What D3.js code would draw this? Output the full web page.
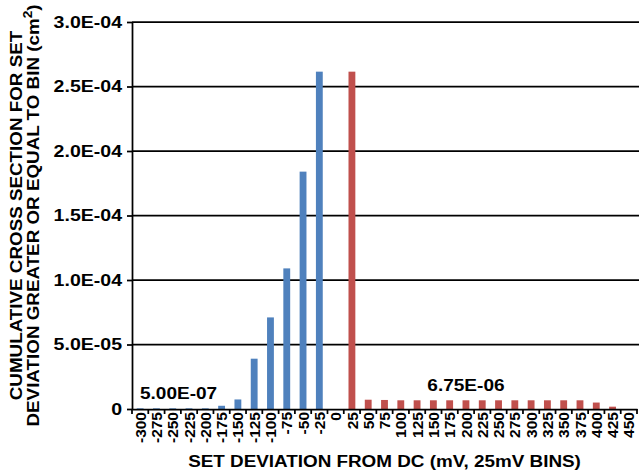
<!DOCTYPE html>
<html>
<head>
<meta charset="utf-8">
<script src="https://cdn.jsdelivr.net/npm/d3@7"></script>
<style>
  body { margin: 0; background: #fff; }
  text { font-family: "Liberation Sans", Arial, sans-serif; font-weight: bold; fill: #000; }
</style>
</head>
<body>
<svg id="chart" width="639" height="474"></svg>
<script>
// bins in mV
var categories = ["-300","-275","-250","-225","-200","-175","-150","-125","-100","-75","-50","-25","0",
  "25","50","75","100","125","150","175","200","225","250","275","300","325","350","375","400","425","450"];

var negValues = [5e-7, 5e-7, 5e-7, 5e-7, 5e-7, 2.5e-6, 7.4e-6, 3.9e-5, 7.1e-5, 1.09e-4, 1.84e-4, 2.615e-4, 0,
  0, 0, 0, 0, 0, 0, 0, 0, 0, 0, 0, 0, 0, 0, 0, 0, 0, 0];

var posValues = [0, 0, 0, 0, 0, 0, 0, 0, 0, 0, 0, 0, 0,
  2.615e-4, 7.2e-6, 7.0e-6, 6.75e-6, 6.75e-6, 6.75e-6, 6.75e-6, 6.75e-6, 6.75e-6, 6.75e-6, 6.75e-6,
  6.75e-6, 6.75e-6, 6.75e-6, 6.75e-6, 5.0e-6, 1.8e-6, 0];

var yTicks = [0, 5e-5, 1e-4, 1.5e-4, 2e-4, 2.5e-4, 3e-4];
var yTickLabels = ["0", "5.0E-05", "1.0E-04", "1.5E-04", "2.0E-04", "2.5E-04", "3.0E-04"];

var annotations = [
  { text: "5.00E-07", cat: "-300", value: 5e-7, anchor: "start" },
  { text: "6.75E-06", cat: "200", value: 6.75e-6, anchor: "middle" }
];

var margin = {top: 22, right: 2, bottom: 65, left: 132};
var width = 639 - margin.left - margin.right;
var height = 474 - margin.top - margin.bottom;
var stretch = 1.12; // text in the original is set a bit wide

var svg = d3.select("#chart");
var g = svg.append("g")
    .attr("transform", "translate(" + margin.left + "," + margin.top + ")");

var x = d3.scaleBand()
    .domain(categories)
    .range([0, width])
    .padding(0);

var y = d3.scaleLinear()
    .domain([0, 3e-4])
    .range([height, 0]);

var barW = x.bandwidth() * 0.42;

// gridlines
g.append("g")
    .selectAll("line")
    .data(yTicks.slice(1))
  .enter().append("line")
    .attr("x1", 0)
    .attr("x2", width + 2)
    .attr("y1", function(d) { return y(d); })
    .attr("y2", function(d) { return y(d); })
    .attr("stroke", "#000")
    .attr("stroke-width", 1.75);

// bars
g.append("g")
    .selectAll("rect")
    .data(categories)
  .enter().append("rect")
    .attr("x", function(d) { return x(d) + (x.bandwidth() - barW) / 2; })
    .attr("y", function(d, i) { return y(negValues[i]); })
    .attr("width", barW)
    .attr("height", function(d, i) { return height - y(negValues[i]); })
    .attr("fill", "#4f81bd");

g.append("g")
    .selectAll("rect")
    .data(categories)
  .enter().append("rect")
    .attr("x", function(d) { return x(d) + (x.bandwidth() - barW) / 2; })
    .attr("y", function(d, i) { return y(posValues[i]); })
    .attr("width", barW)
    .attr("height", function(d, i) { return height - y(posValues[i]); })
    .attr("fill", "#c0504d");

// y axis: ticks from d3, labels drawn separately so they can be widened
var yAxis = d3.axisLeft(y)
    .tickValues(yTicks)
    .tickFormat("")
    .tickSize(5)
    .tickSizeOuter(0);

var yg = g.append("g").call(yAxis);
yg.select(".domain").attr("stroke-width", 1.75);
yg.selectAll(".tick line").attr("stroke-width", 1.75);

g.append("g")
    .selectAll("text")
    .data(yTicks)
  .enter().append("text")
    .attr("transform", function(d) { return "translate(-10," + y(d) + ") scale(1.15,1)"; })
    .attr("dy", "0.35em")
    .attr("text-anchor", "end")
    .style("font-size", "17px")
    .text(function(d, i) { return yTickLabels[i]; });

// x axis (labels at category centres, ticks between categories)
var xAxis = d3.axisBottom(x)
    .tickSize(0)
    .tickSizeOuter(0)
    .tickPadding(0);

var xg = g.append("g")
    .attr("transform", "translate(0," + height + ")")
    .call(xAxis);
xg.select(".domain").attr("stroke-width", 1.75);
xg.selectAll("text")
    .attr("transform", "rotate(-90)")
    .attr("x", -3)
    .attr("y", 0)
    .attr("dy", "0.36em")
    .style("text-anchor", "end")
    .style("font-size", "15.5px")
    .style("font-family", "'Liberation Sans', Arial, sans-serif")
    .style("font-weight", "bold");

xg.append("g")
    .selectAll("line")
    .data(categories.map(function(c) { return x(c); }).concat([width]))
  .enter().append("line")
    .attr("x1", function(d) { return d; })
    .attr("x2", function(d) { return d; })
    .attr("y1", 0)
    .attr("y2", 5)
    .attr("stroke", "#000")
    .attr("stroke-width", 1.75);

// annotations
g.append("g")
    .selectAll("text")
    .data(annotations)
  .enter().append("text")
    .attr("transform", function(d) {
      var ax = d.anchor === "start" ? x(d.cat) + 8 : x(d.cat) + x.bandwidth() / 2;
      return "translate(" + ax + "," + (y(d.value) - 9) + ") scale(" + stretch + ",1)";
    })
    .attr("text-anchor", function(d) { return d.anchor; })
    .style("font-size", "17px")
    .text(function(d) { return d.text; });

// axis titles
svg.append("text")
    .attr("transform", "translate(" + (margin.left + width / 2) + ",467) scale(1.11,1)")
    .attr("text-anchor", "middle")
    .style("font-size", "17px")
    .text("SET DEVIATION FROM DC (mV, 25mV BINS)");

var yMid = margin.top + height / 2;
var yTitle = svg.append("g");
yTitle.append("text")
    .attr("transform", "translate(22," + yMid + ") rotate(-90) scale(1.14,1)")
    .attr("text-anchor", "middle")
    .style("font-size", "16.5px")
    .text("CUMULATIVE CROSS SECTION FOR SET");
var line2 = yTitle.append("text")
    .attr("transform", "translate(39," + yMid + ") rotate(-90) scale(1.14,1)")
    .attr("text-anchor", "middle")
    .style("font-size", "16.5px");
line2.append("tspan").text("DEVIATION GREATER OR EQUAL TO BIN (cm");
line2.append("tspan")
    .attr("dy", -7)
    .style("font-size", "12px")
    .text("2");
line2.append("tspan")
    .attr("dy", 7)
    .text(")");
</script>
</body>
</html>
